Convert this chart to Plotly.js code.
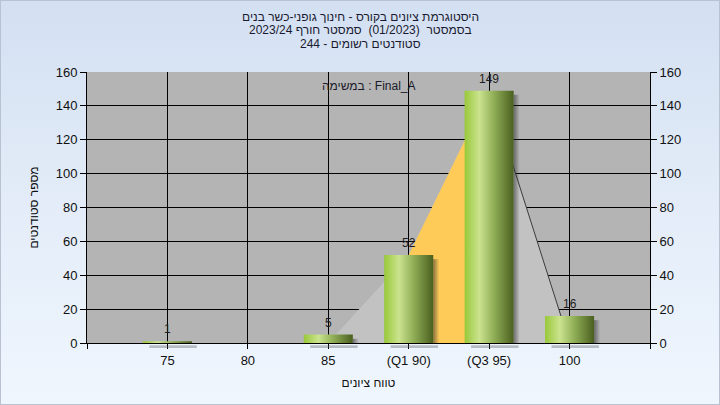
<!DOCTYPE html>
<html>
<head>
<meta charset="utf-8">
<script src="https://cdn.plot.ly/plotly-3.0.1.min.js"></script>
<style>
  html, body { margin: 0; padding: 0; }
  body { width: 720px; height: 405px; overflow: hidden;
         background: linear-gradient(to bottom, #d3e0f2 0%, #e3ecf8 50%, #eff6fe 100%); }
  #chart { position: absolute; left: 0; top: 0; width: 720px; height: 405px; }
  #frame { position: absolute; left: 0; top: 0; width: 718px; height: 403px;
           border: 1px solid #b8c2d0; pointer-events: none; }
</style>
</head>
<body>
<div id="chart"></div>
<div id="frame"></div>
<script>
// ---- data ----
const categories = ['75', '80', '85', '(Q1 90)', '(Q3 95)', '100'];
const counts = [1, 0, 5, 52, 149, 16];
const curveValues = [0, 0, 0, 52, 149, 0];      // background area polygon
const q1Index = 3;                               // start of inter-quartile band
const q3Index = 4;                               // end of inter-quartile band
const yTicks = [0, 20, 40, 60, 80, 100, 120, 140, 160];
const titleLines = [
  'היסטוגרמת ציונים בקורס - חינוך גופני-כשר בנים',
  'בסמסטר  (01/2023)  סמסטר חורף 2023/24',
  'סטודנטים רשומים - 244'
];
const legendText = 'במשימה : Final_A';
const xTitle = 'טווח ציונים';
const yTitle = 'מספר סטודנטים';

// ---- build ----
const idx = categories.map((c, i) => i);
const FONT = 'Liberation Sans, Arial, DejaVu Sans, sans-serif';
const barW = 0.61;
const traces = [];

// gray background area
traces.push({
  type: 'scatter', mode: 'lines', x: idx, y: curveValues,
  fill: 'tozeroy', fillcolor: '#c2c2c2', line: {width: 0, color: 'rgba(0,0,0,0)'},
  hoverinfo: 'skip', showlegend: false
});
// yellow inter-quartile band
const bandX = idx.slice(q1Index, q3Index + 1);
traces.push({
  type: 'scatter', mode: 'lines', x: bandX, y: bandX.map(i => curveValues[i]),
  fill: 'tozeroy', fillcolor: '#ffcb58', line: {width: 0, color: 'rgba(0,0,0,0)'},
  hoverinfo: 'skip', showlegend: false
});
// dark edge line on the descending side
traces.push({
  type: 'scatter', mode: 'lines', x: [q3Index, q3Index + 1],
  y: [curveValues[q3Index], curveValues[q3Index + 1]],
  line: {width: 1, color: '#3c3c3c'}, hoverinfo: 'skip', showlegend: false
});

const shapes = [];
const annotations = [];
counts.forEach((v, i) => {
  if (v <= 0) return;
  const x0 = i - barW / 2, x1 = i + barW / 2;
  // side shadow
  if (v > 3) {
    traces.push({
      type: 'scatter', mode: 'lines',
      x: [x1, x1 + 0.075, x1 + 0.075, x1, x1], y: [0, 0, v - 2.5, v - 2.5, 0],
      fill: 'toself', fillcolor: 'rgba(40,40,40,0.3)',
      fillgradient: {type: 'horizontal', start: x1, stop: x1 + 0.075,
        colorscale: [[0, 'rgba(40,40,40,0.55)'], [1, 'rgba(40,40,40,0)']]},
      line: {width: 0, color: 'rgba(0,0,0,0)'}, hoverinfo: 'skip', showlegend: false
    });
  }
  // cylinder-like bar
  traces.push({
    type: 'scatter', mode: 'lines',
    x: [x0, x1, x1, x0, x0], y: [0, 0, v, v, 0],
    fill: 'toself', fillcolor: '#8cb048',
    fillgradient: {type: 'horizontal', start: x0, stop: x1,
      colorscale: [[0, '#98c83a'], [0.3, '#cbe38e'], [0.6, '#8fae56'], [1, '#4a5f1f']]},
    line: {width: 0, color: 'rgba(0,0,0,0)'},
    hovertemplate: categories[i] + ': ' + v + '<extra></extra>', showlegend: false
  });
  // shadow below axis
  shapes.push({type: 'rect', xref: 'x', yref: 'paper', x0: x0 + 0.08, x1: x1 + 0.06,
    y0: -0.018, y1: -0.008, fillcolor: 'rgba(90,90,90,0.35)', line: {width: 0}, layer: 'above'});
  // value label
  annotations.push({x: i, y: v, xref: 'x', yref: 'y', text: String(v), showarrow: false,
    xanchor: 'center', yanchor: 'bottom', yshift: 3,
    font: {family: FONT, size: 12, color: '#1c1c1c'}});
});
// invisible trace to activate right axis
traces.push({type: 'scatter', mode: 'markers', x: [0], y: [0], yaxis: 'y2',
  marker: {opacity: 0}, hoverinfo: 'skip', showlegend: false});

// title lines (exact line spacing) and legend caption
const titleY = [17, 30, 44];
titleLines.forEach((t, k) => {
  annotations.push({text: t, xref: 'paper', yref: 'paper', x: 0.5 - 8 / 563,
    y: 1 + (72 - titleY[k]) / 271, xanchor: 'center', yanchor: 'middle', showarrow: false,
    font: {family: FONT, size: 12, color: '#1a1a30'}});
});
annotations.push({
  text: legendText, xref: 'paper', yref: 'paper', x: 0.5, y: 0.95,
  xanchor: 'center', yanchor: 'middle', showarrow: false,
  font: {family: FONT, size: 12, color: '#1a1a2a'}
});

const tickIdx = [-1].concat(idx, [idx.length]);
const layout = {
  width: 720, height: 405,
  margin: {l: 87, r: 70, t: 72, b: 62},
  paper_bgcolor: 'rgba(0,0,0,0)', plot_bgcolor: '#b4b4b4',
  font: {family: FONT, size: 13, color: '#111'},
  xaxis: {
    range: [-1, idx.length], tickmode: 'array', tickvals: tickIdx,
    ticktext: [''].concat(categories, ['']),
    showgrid: true, gridcolor: '#000', gridwidth: 1, zeroline: false,
    showline: true, linecolor: '#000', linewidth: 1, mirror: false,
    ticks: 'outside', ticklen: 5, tickcolor: '#000',
    tickfont: {family: FONT, size: 13, color: '#111'},
    title: {text: xTitle, standoff: 12, font: {family: FONT, size: 12, color: '#111'}}
  },
  yaxis: {
    range: [0, 160], tickmode: 'array', tickvals: yTicks,
    showgrid: true, gridcolor: '#000', gridwidth: 1, zeroline: false,
    showline: true, linecolor: '#000', linewidth: 1,
    ticks: 'outside', ticklen: 6, tickcolor: '#000',
    tickfont: {family: FONT, size: 13, color: '#111'},
    title: {text: yTitle, standoff: 14, font: {family: FONT, size: 12, color: '#111'}}
  },
  yaxis2: {
    overlaying: 'y', side: 'right', range: [0, 160], tickmode: 'array', tickvals: yTicks,
    showgrid: false, zeroline: false, showline: true, linecolor: '#000', linewidth: 1,
    ticks: 'outside', ticklen: 6, tickcolor: '#000',
    tickfont: {family: FONT, size: 13, color: '#111'}
  },
  shapes: shapes,
  annotations: annotations,
  showlegend: false
};

Plotly.newPlot('chart', traces, layout, {displayModeBar: false, staticPlot: true});
</script>
</body>
</html>
